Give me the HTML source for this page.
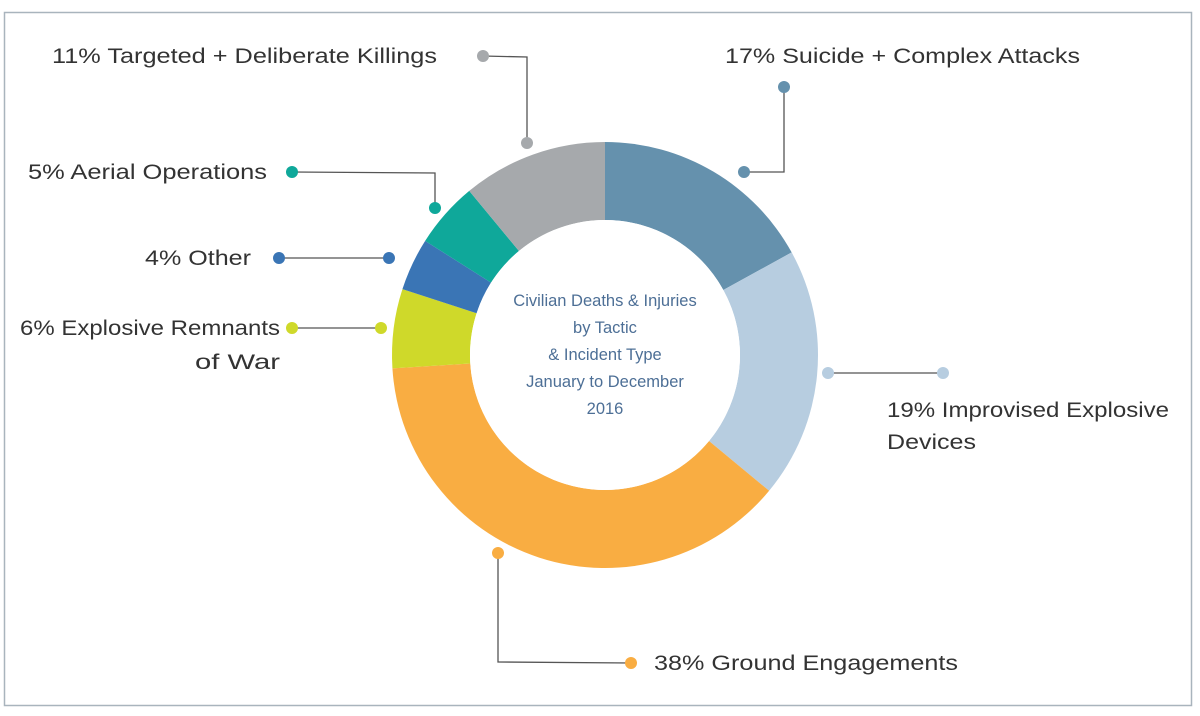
<!DOCTYPE html>
<html><head><meta charset="utf-8"><style>
html,body{margin:0;padding:0;background:#fff;}
svg{display:block;}
text{font-family:"Liberation Sans",sans-serif;}
</style></head><body>
<svg width="1200" height="716" viewBox="0 0 1200 716" xmlns="http://www.w3.org/2000/svg">
<rect x="4.5" y="12.5" width="1187" height="693" fill="#fff" stroke="#a9b4bd" stroke-width="1.5"/>
<g transform="translate(605,355)">
<path id="s" d="" />
</g>
<g id="donut"></g>
<circle cx="605" cy="355" r="135" fill="#fff"/>
<g fill="#4d6f96" font-size="16.5" text-anchor="middle">
<text x="605" y="306">Civilian Deaths &amp; Injuries</text>
<text x="605" y="333">by Tactic</text>
<text x="605" y="360">&amp; Incident Type</text>
<text x="605" y="387">January to December</text>
<text x="605" y="414">2016</text>
</g>
<g fill="none" stroke="#555" stroke-width="1.3">
<polyline points="483,56 527,57 527,143"/>
<polyline points="784,87 784,172 744,172"/>
<polyline points="292,172 435,173 435,208"/>
<polyline points="279,258 389,258"/>
<polyline points="292,328 381,328"/>
<polyline points="828,373 943,373"/>
<polyline points="498,553 498,662 631,663"/>
</g>
<g>
<circle cx="483" cy="56" r="6" fill="#a6a9ac"/><circle cx="527" cy="143" r="6" fill="#a6a9ac"/>
<circle cx="784" cy="87" r="6" fill="#6591ad"/><circle cx="744" cy="172" r="6" fill="#6591ad"/>
<circle cx="292" cy="172" r="6" fill="#0fa89a"/><circle cx="435" cy="208" r="6" fill="#0fa89a"/>
<circle cx="279" cy="258" r="6" fill="#3a75b5"/><circle cx="389" cy="258" r="6" fill="#3a75b5"/>
<circle cx="292" cy="328" r="6" fill="#cfd92a"/><circle cx="381" cy="328" r="6" fill="#cfd92a"/>
<circle cx="828" cy="373" r="6" fill="#b7cde0"/><circle cx="943" cy="373" r="6" fill="#b7cde0"/>
<circle cx="498" cy="553" r="6" fill="#f9ad42"/><circle cx="631" cy="663" r="6" fill="#f9ad42"/>
</g>
<g fill="#333" font-size="21">
<text x="52" y="63" textLength="385" lengthAdjust="spacingAndGlyphs">11% Targeted + Deliberate Killings</text>
<text x="725" y="63" textLength="355" lengthAdjust="spacingAndGlyphs">17% Suicide + Complex Attacks</text>
<text x="28" y="179" textLength="239" lengthAdjust="spacingAndGlyphs">5% Aerial Operations</text>
<text x="145" y="265" textLength="106" lengthAdjust="spacingAndGlyphs">4% Other</text>
<text x="20" y="335" textLength="260" lengthAdjust="spacingAndGlyphs">6% Explosive Remnants</text>
<text x="195" y="369" textLength="85" lengthAdjust="spacingAndGlyphs">of War</text>
<text x="887" y="417" textLength="282" lengthAdjust="spacingAndGlyphs">19% Improvised Explosive</text>
<text x="887" y="449" textLength="89" lengthAdjust="spacingAndGlyphs">Devices</text>
<text x="654" y="670" textLength="304" lengthAdjust="spacingAndGlyphs">38% Ground Engagements</text>
</g>
<script>
(function(){
var d=[[17,"#6591ad"],[19,"#b7cde0"],[38,"#f9ad42"],[6,"#cfd92a"],[4,"#3a75b5"],[5,"#0fa89a"],[11,"#a6a9ac"]];
var cx=605,cy=355,R=213,r=135,a=0,g=document.getElementById("donut"),ns="http://www.w3.org/2000/svg";
function pt(rad,ang){var t=ang*Math.PI/180;return [cx+rad*Math.sin(t),cy-rad*Math.cos(t)];}
d.forEach(function(s){var b=a+s[0]*3.6,l=(b-a)>180?1:0;
var p1=pt(R,a),p2=pt(R,b),p3=pt(r,b),p4=pt(r,a);
var p=document.createElementNS(ns,"path");
p.setAttribute("d","M"+p1+"A"+R+","+R+" 0 "+l+" 1 "+p2+"L"+p3+"A"+r+","+r+" 0 "+l+" 0 "+p4+"Z");
p.setAttribute("fill",s[1]);g.appendChild(p);a=b;});
})();
</script>
</svg>
</body></html>
